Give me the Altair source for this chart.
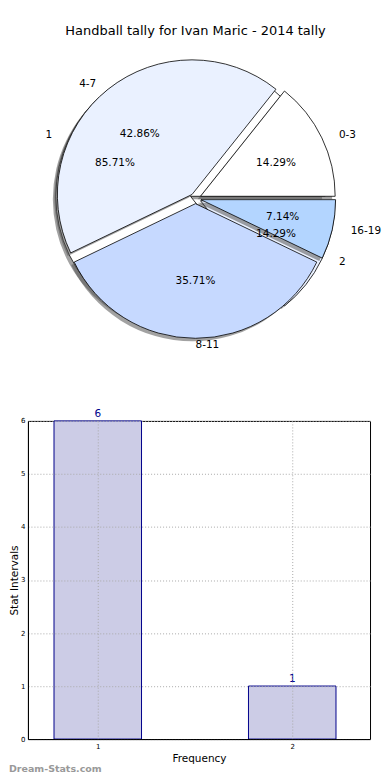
import altair as alt
import pandas as pd

# ---- data ----
title_text = "Handball tally for Ivan Maric - 2014 tally"
pie_labels = ["0-3", "4-7", "8-11", "16-19"]
pie_values = [2, 6, 5, 1]
pie_colors = ["#ffffff", "#eaf1ff", "#c6d9ff", "#b3d5ff"]
pie2_labels = ["1", "2"]
pie2_values = [6, 1]
pie2_colors = ["#ffffff", "#eaf1ff"]
bar_x = [1, 2]
bar_y = [6, 1]
bar_x_ticks = [1, 2]
bar_y_ticks = [0, 1, 2, 3, 4, 5, 6]
watermark = "Dream-Stats.com"

FONT = "DejaVu Sans"
EXPLODE = 0.04
LEFT = 27          # page x of plot origin
W = 370 - LEFT
H_PIE = 400
H_BAR = 319
CX = 195 - LEFT    # pie centre within panel

xs = alt.Scale(domain=[-CX / 140, (W - CX) / 140], nice=False, zero=False)
ys = alt.Scale(domain=[-(H_PIE - 190) / 129, 190 / 129], nice=False, zero=False)


def pie_base(labels, values, colors):
    df = pd.DataFrame({"label": labels, "value": values, "color": colors,
                       "order": list(range(len(labels)))})
    return (
        alt.Chart(df)
        .transform_joinaggregate(total="sum(value)")
        .transform_window(cum="sum(value)", frame=[None, 0], sort=[alt.SortField("order")])
        .transform_calculate(
            f0="(datum.cum - datum.value) / datum.total",
            f1="datum.cum / datum.total",
        )
        .transform_calculate(
            t0="PI/2 - 2*PI*datum.f0",
            t1="PI/2 - 2*PI*datum.f1",
            am="PI*(datum.f0 + datum.f1)",
            pct="format(100*datum.value/datum.total, '.2f') + '%'",
        )
        .transform_calculate(
            cx=f"{EXPLODE}*cos(datum.am)",
            cy=f"{EXPLODE}*sin(datum.am)",
        )
        .transform_calculate(
            lx="datum.cx + 1.1*cos(datum.am)",
            ly="datum.cy + 1.1*sin(datum.am)",
            px="datum.cx + 0.6*cos(datum.am)",
            py="datum.cy + 0.6*sin(datum.am)",
            side="cos(datum.am) > -0.001 ? 'L' : 'R'",
        )
    )


def wedges(base, shadow=False):
    enc = dict(
        theta=alt.Theta("t0:Q", scale=None, stack=None),
        theta2="t1:Q",
        x=alt.X("cx:Q", scale=xs, axis=None),
        y=alt.Y("cy:Q", scale=ys, axis=None),
    )
    if shadow:
        return base.mark_arc(radius=135, xOffset=-3, yOffset=3, fill="#555555",
                             fillOpacity=0.55, stroke=None).encode(**enc)
    return base.mark_arc(radius=135, stroke="black", strokeWidth=0.8).encode(
        fill=alt.Fill("color:N", scale=None), **enc)


def labels_layer(base):
    left = base.transform_filter("datum.side == 'L'").mark_text(
        align="left", baseline="middle", font=FONT, fontSize=10.5, color="black"
    ).encode(x=alt.X("lx:Q", scale=xs, axis=None), y=alt.Y("ly:Q", scale=ys, axis=None), text="label:N")
    right = base.transform_filter("datum.side == 'R'").mark_text(
        align="right", baseline="middle", font=FONT, fontSize=10.5, color="black"
    ).encode(x=alt.X("lx:Q", scale=xs, axis=None), y=alt.Y("ly:Q", scale=ys, axis=None), text="label:N")
    pct = base.mark_text(
        align="center", baseline="middle", font=FONT, fontSize=10.5, color="black"
    ).encode(x=alt.X("px:Q", scale=xs, axis=None), y=alt.Y("py:Q", scale=ys, axis=None), text="pct:N")
    return [left, right, pct]


b1 = pie_base(pie_labels, pie_values, pie_colors)
b2 = pie_base(pie2_labels, pie2_values, pie2_colors)

title = alt.Chart(pd.DataFrame({"t": [title_text]})).mark_text(
    font=FONT, fontSize=13, color="black", align="center", baseline="middle"
).encode(x=alt.value(CX), y=alt.value(22), text="t:N")

pie = alt.layer(
    wedges(b2, True), wedges(b2), wedges(b1, True), wedges(b1),
    *labels_layer(b1), *labels_layer(b2), title,
).properties(width=W, height=H_PIE, view=alt.ViewBackground(stroke=None))

# ---- bar chart ----
bar_df = pd.DataFrame({"x": bar_x, "y": bar_y})
bx = alt.Scale(domain=[1 - (97 - LEFT) / 195, 2.4], nice=False, zero=False)
by = alt.Scale(domain=[0, 6], nice=False)

x_axis = alt.Axis(values=bar_x_ticks, format="d", title="Frequency", grid=True,
                  gridDash=[1, 2], gridColor="#aaaaaa", gridWidth=1, ticks=False,
                  labelFont=FONT, labelFontSize=7, labelColor="black", labelPadding=3,
                  titleFont=FONT, titleFontSize=10.5, titleFontWeight="normal",
                  titleColor="black", titlePadding=4, domainColor="black", zindex=1)
y_axis = alt.Axis(values=bar_y_ticks, format="d", title="Stat Intervals", grid=True,
                  gridDash=[1, 2], gridColor="#aaaaaa", gridWidth=1, ticks=False,
                  labelFont=FONT, labelFontSize=7, labelColor="black", labelPadding=3,
                  titleFont=FONT, titleFontSize=10.5, titleFontWeight="normal",
                  titleColor="black", titleX=-8, domainColor="black", zindex=1)

bars = alt.Chart(bar_df).transform_calculate(
    x0="datum.x - 0.225", x1="datum.x + 0.225", y0="0"
).mark_bar(fill="#ccccE6", stroke="#00008b", strokeWidth=1).encode(
    x=alt.X("x0:Q", scale=bx, axis=x_axis),
    x2="x1:Q",
    y=alt.Y("y:Q", scale=by, axis=y_axis),
    y2="y0:Q",
)
vals = alt.Chart(bar_df).mark_text(
    font=FONT, fontSize=10.5, color="#00008b", baseline="bottom", dy=-2
).encode(x=alt.X("x:Q", scale=bx), y=alt.Y("y:Q", scale=by), text=alt.Text("y:Q", format="d"))
wm = alt.Chart(pd.DataFrame({"t": [watermark]})).mark_text(
    font=FONT, fontSize=9.5, color="#999999", align="left", baseline="middle", fontWeight="bold"
).encode(x=alt.value(8 - LEFT), y=alt.value(H_BAR + 30), text="t:N")

bar = alt.layer(bars, vals, wm).properties(
    width=W, height=H_BAR, view=alt.ViewBackground(stroke="black", strokeWidth=1)
)

chart = alt.vconcat(pie, bar, spacing=13, bounds="flush").properties(
    padding={"left": 0, "top": 0, "right": 0, "bottom": 0}
).configure(font=FONT)

chart.save("out.html", embed_options={"renderer": "svg", "actions": False})
